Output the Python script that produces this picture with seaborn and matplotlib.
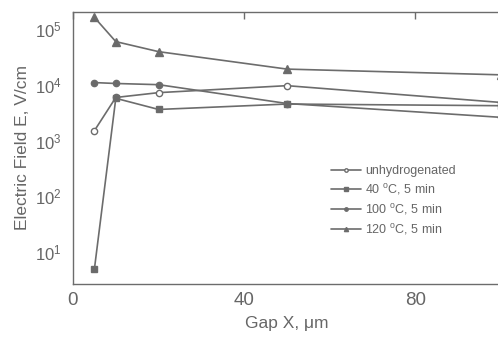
import numpy as np
import pandas as pd
import matplotlib
matplotlib.use("Agg")
import matplotlib.pyplot as plt
import seaborn as sns

# Values (gap in um, field in V/cm)
gap = [5, 10, 20, 50, 100]
unhydrogenated = [1.5e3, 5.9e3, 7.2e3, 9.6e3, 4.8e3]
h40 = [5.0, 5.7e3, 3.6e3, 4.5e3, 4.2e3]
h100 = [1.09e4, 1.05e4, 1.0e4, 4.6e3, 2.6e3]
h120 = [1.6e5, 5.9e4, 3.9e4, 1.9e4, 1.5e4]

labels = ["unhydrogenated",
          r"40 $^{\mathrm{o}}$C, 5 min",
          r"100 $^{\mathrm{o}}$C, 5 min",
          r"120 $^{\mathrm{o}}$C, 5 min"]
series = [unhydrogenated, h40, h100, h120]
markers = ["o", "s", "o", "^"]
sizes = [4.5, 4.2, 4.5, 5.5]
faces = ["white", "#6a6a6a", "#6a6a6a", "#6a6a6a"]

sns.set_style("white")
plt.rcParams["font.family"] = ["Liberation Sans", "DejaVu Sans"]
plt.rcParams["mathtext.fontset"] = "custom"
plt.rcParams["mathtext.rm"] = "Liberation Sans"
plt.rcParams["mathtext.it"] = "Liberation Sans:italic"

gray = "#6c6c6c"
text_gray = "#666666"

fig = plt.figure(figsize=(4.98, 3.38), dpi=100)
ax = fig.add_axes([73 / 498, 54 / 338, 428 / 498, 272 / 338])

for vals, lab, m, ms, fc in zip(series, labels, markers, sizes, faces):
    df = pd.DataFrame({"gap": gap, "E": vals})
    sns.lineplot(data=df, x="gap", y="E", ax=ax, color=gray, lw=1.2,
                 marker=m, markersize=ms,
                 markerfacecolor=fc, markeredgecolor=gray, markeredgewidth=1.0,
                 label=lab)

ax.set_yscale("log")
ax.set_xlim(0, 100)
ax.set_ylim(2.7, 2.0e5)
ax.set_xticks([0, 40, 80])
ax.set_yticks([1e1, 1e2, 1e3, 1e4, 1e5])
ax.yaxis.set_minor_locator(matplotlib.ticker.NullLocator())
ax.set_xticklabels(["0", "40", "80"])
ax.set_yticklabels([r"10$^{%d}$" % k for k in range(1, 6)])

for s in ax.spines.values():
    s.set_color(gray)
    s.set_linewidth(1.0)

ax.tick_params(axis="y", which="major", direction="out", length=5, width=1,
               color=gray, labelcolor=text_gray, labelsize=12, pad=3,
               right=True)
ax.tick_params(axis="x", which="major", direction="in", length=5, width=1,
               color=gray, labelcolor=text_gray, labelsize=13.5, pad=6,
               top=True)
ax.set_xlabel("Gap X, \u03bcm", color=text_gray, fontsize=12.5, labelpad=5)
ax.set_ylabel("Electric Field E, V/cm", color=text_gray, fontsize=12.5,
              labelpad=4)

leg = ax.legend(loc="upper left", bbox_to_anchor=(325 / 498, 1 - 159 / 338),
                bbox_transform=fig.transFigure, frameon=False, fontsize=9,
                handlelength=2.4, handletextpad=0.3, labelspacing=0.4,
                markerscale=0.55, borderpad=0)
for t in leg.get_texts():
    t.set_color(text_gray)

fig.savefig("out.png", dpi=100)
